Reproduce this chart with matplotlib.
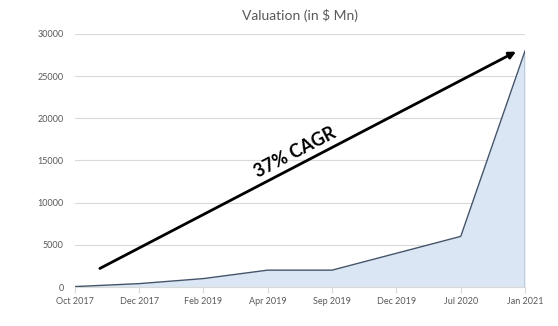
import numpy as np
import matplotlib
matplotlib.use("Agg")
import matplotlib.pyplot as plt

# Data
dates = ["Oct 2017", "Dec 2017", "Feb 2019", "Apr 2019", "Sep 2019", "Dec 2019", "Jul 2020", "Jan 2021"]
valuation = [50, 400, 1000, 2000, 2000, 4000, 6000, 28000]
y_ticks = [0, 5000, 10000, 15000, 20000, 25000, 30000]

# Trend arrow (category index, value)
arrow_start = (0.39, 2200)
arrow_end = (6.86, 27900)

FILL_COLOR = "#dae6f3"
LINE_COLOR = "#44546a"
GRID_COLOR = "#d9d9d9"
TEXT_COLOR = "#595959"

plt.rcParams["font.family"] = ["Lato", "DejaVu Sans"]

fig = plt.figure(figsize=(5.58, 3.26), dpi=100)
ax = fig.add_axes([0.134, 0.1196, 0.807, 0.7764])

x = np.arange(len(dates))
y = np.array(valuation, dtype=float)

ax.fill_between(x, y, 0, color=FILL_COLOR, linewidth=0, zorder=2)
ax.plot(x, y, color=LINE_COLOR, linewidth=1.0, zorder=3)
ax.vlines(x[-1], 0, y[-1], color=LINE_COLOR, linewidth=1.0, zorder=3)

ax.set_xlim(0, len(dates) - 1)
ax.set_ylim(0, 30000)
ax.set_yticks(y_ticks)
ax.set_yticklabels([str(v) for v in y_ticks])
ax.set_xticks(x)
ax.set_xticklabels(dates)

ax.grid(axis="y", color=GRID_COLOR, linewidth=0.8, zorder=0)
ax.set_axisbelow(True)
for side in ["top", "right", "left"]:
    ax.spines[side].set_visible(False)
ax.spines["bottom"].set_color(GRID_COLOR)
ax.spines["bottom"].set_linewidth(0.8)

ax.tick_params(axis="y", length=0, labelsize=6.5, labelcolor=TEXT_COLOR, pad=8)
ax.tick_params(axis="x", length=4, color=GRID_COLOR, labelsize=6.5, labelcolor=TEXT_COLOR, pad=3)

ax.set_title("Valuation (in $ Mn)", fontsize=10, color=TEXT_COLOR, pad=10)

ax.annotate("", xy=arrow_end, xytext=arrow_start,
            arrowprops=dict(arrowstyle="-|>", color="black", lw=2,
                            mutation_scale=10, shrinkA=0, shrinkB=0),
            zorder=5)
ax.text(3.42, 15900, "37% CAGR", fontsize=13, fontweight="bold", color="black",
        rotation=27.5, rotation_mode="anchor", ha="center", va="center", zorder=6)

fig.savefig("out.png", dpi=100, facecolor="white")
